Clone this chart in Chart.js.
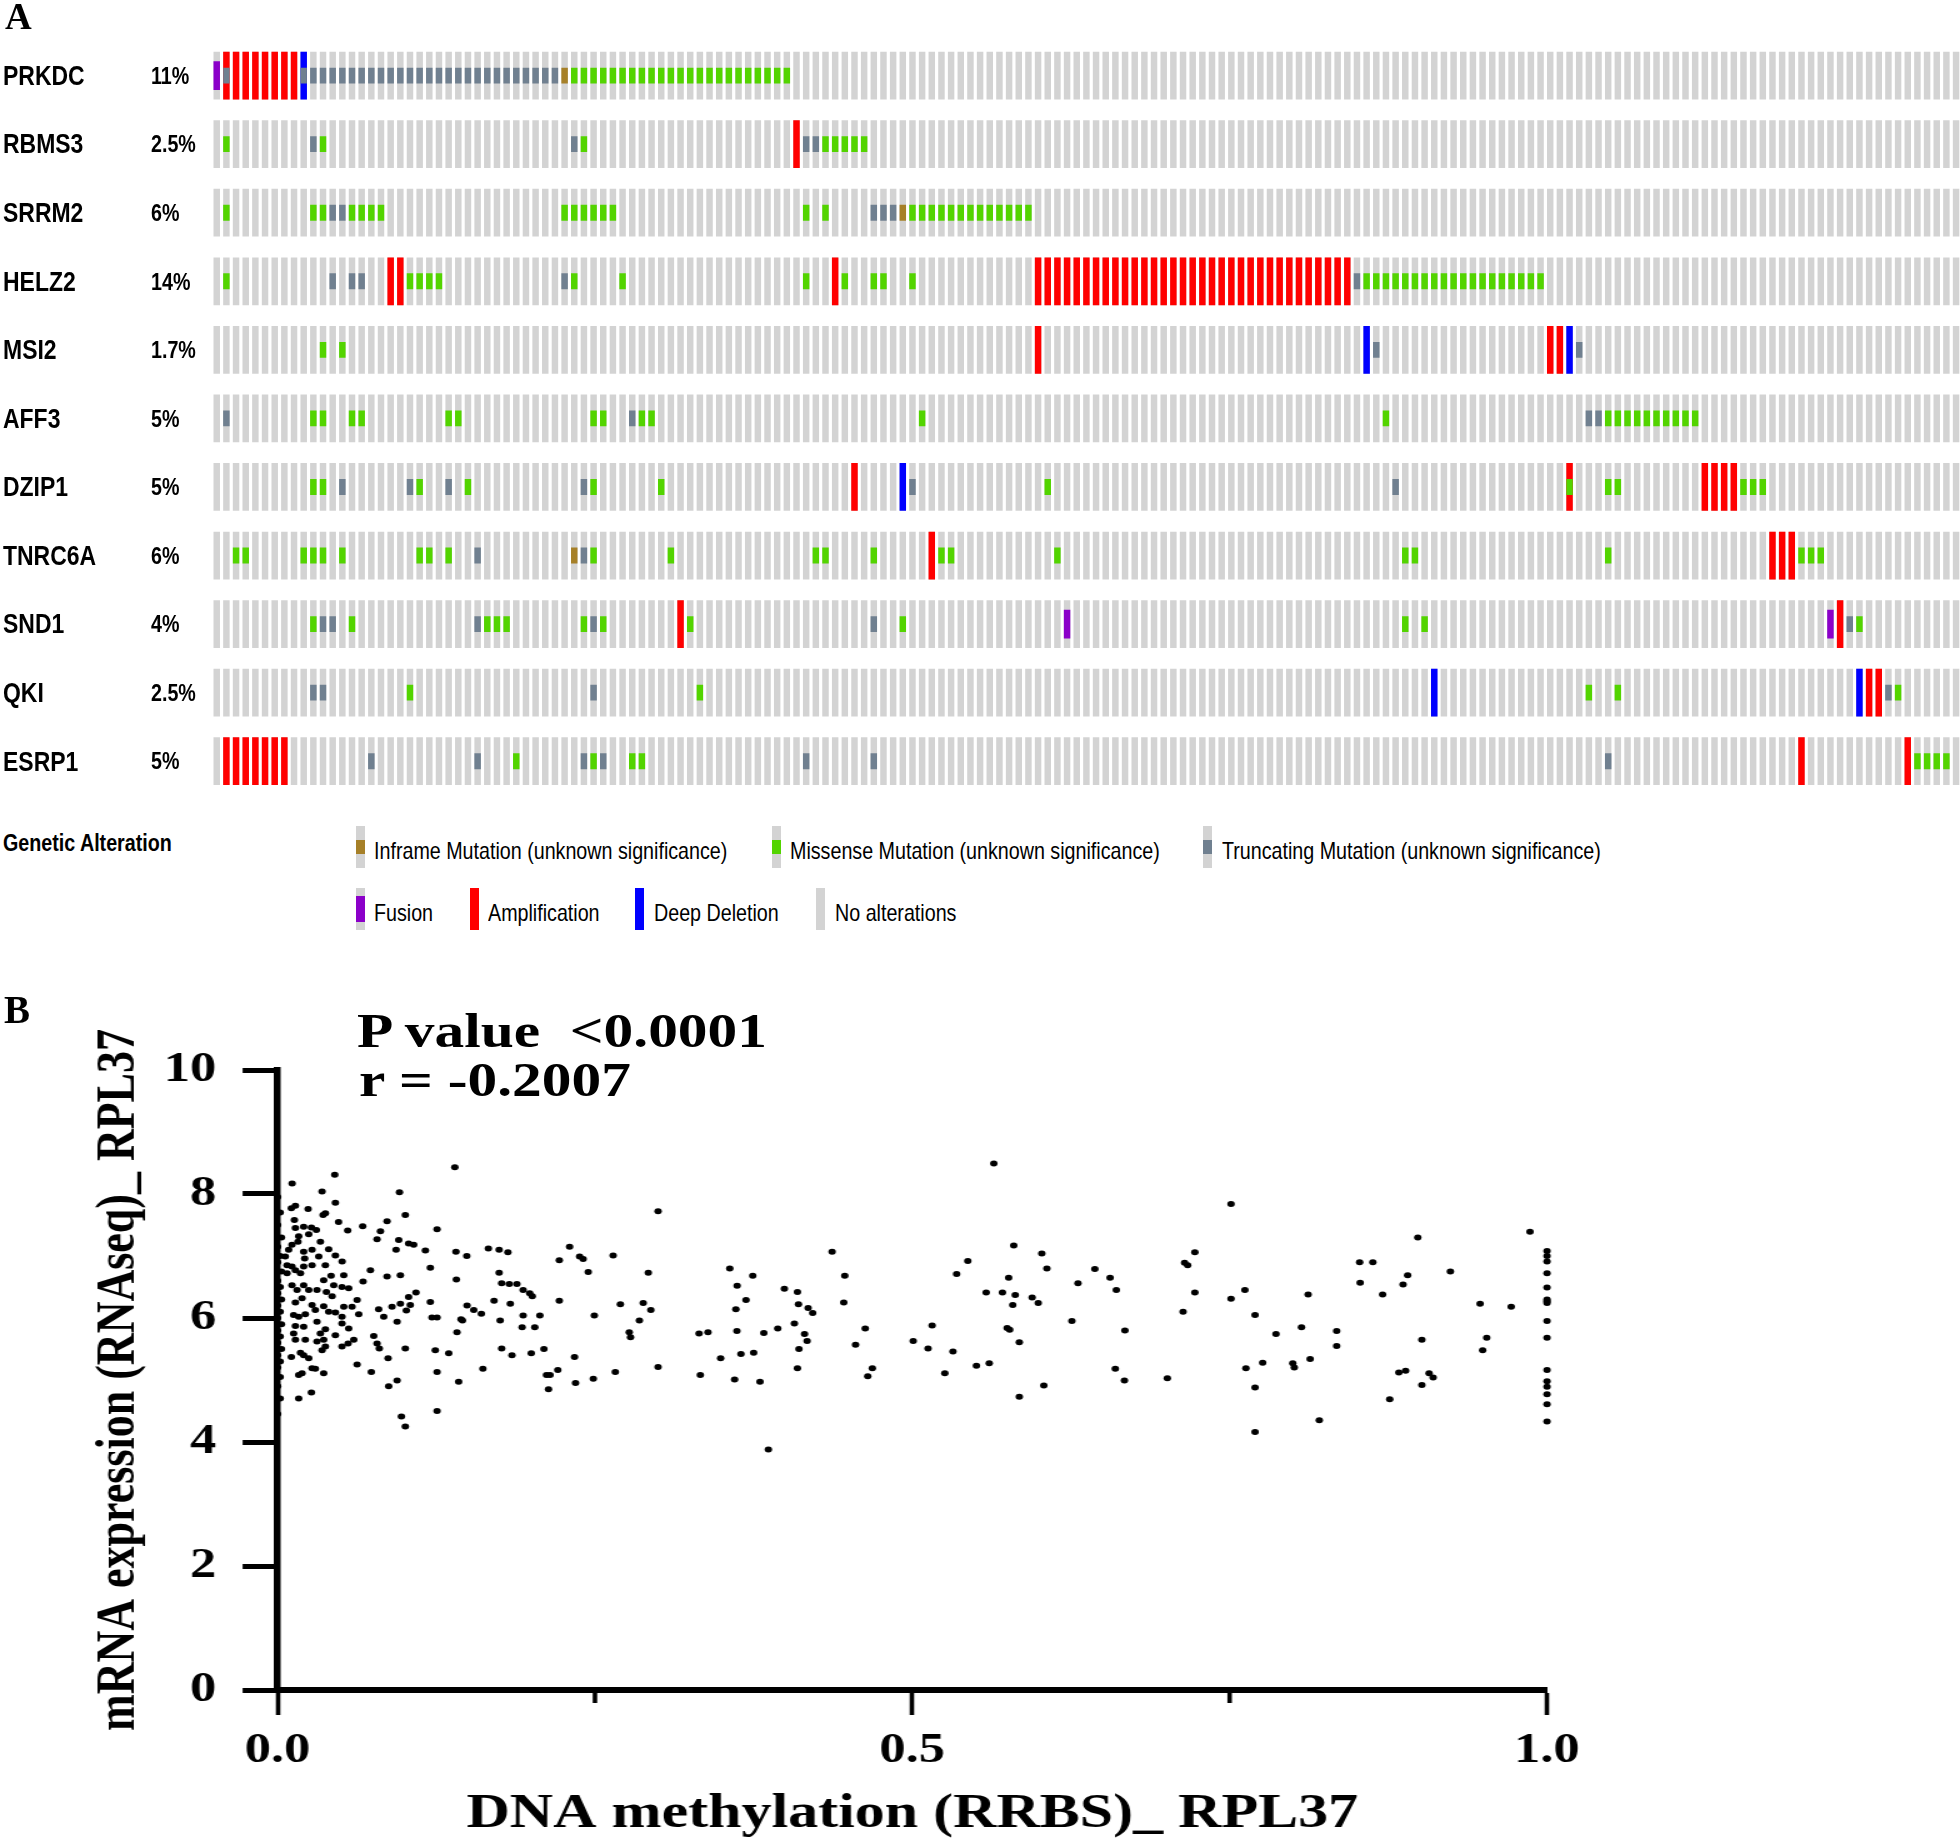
<!DOCTYPE html>
<html><head><meta charset="utf-8">
<script src="https://cdn.jsdelivr.net/npm/chart.js@4.4.1/dist/chart.umd.min.js"></script>
<style>
html,body{margin:0;padding:0;background:#fff;overflow:hidden;}
body{width:1960px;height:1843px;position:relative;}
#onco{position:absolute;left:0;top:0;}
#scWrap{position:absolute;left:0;top:980px;width:1568px;height:863px;transform:scaleX(1.25);transform-origin:0 0;}
.t{position:absolute;white-space:pre;color:#000;line-height:1;}
.narrow{font-family:"Liberation Sans",Arial,sans-serif;transform:scaleX(0.82);transform-origin:0 0;}
.serif{font-family:"Liberation Serif","Times New Roman",serif;font-weight:bold;}
.stretch{transform:scaleX(1.25);transform-origin:0 0;}
.glyph{position:absolute;width:9px;height:42px;background:#D3D3D3;}
.glyph i{position:absolute;left:0;width:100%;display:block;}
</style></head><body>
<canvas id="onco" width="1962" height="800"></canvas>
<div id="scWrap"><canvas id="sc" width="1568" height="863"></canvas></div>
<div class="t serif" style="left:5px;top:-2px;font-size:37px;">A</div>
<div class="t serif" style="left:4px;top:990px;font-size:39px;">B</div>
<div class="t serif stretch" style="left:357px;top:1008px;font-size:47.5px;">P value  &lt;0.0001</div>
<div class="t serif stretch" style="left:359px;top:1057px;font-size:47.5px;">r = -0.2007</div>
<div class="t narrow" style="left:3px;top:831px;font-size:24px;font-weight:bold;">Genetic Alteration</div>
<div id="labels"></div>
<div id="legend"></div>
<script>
// ---------------- Panel A: OncoPrint data ----------------
const genes = ['PRKDC','RBMS3','SRRM2','HELZ2','MSI2','AFF3','DZIP1','TNRC6A','SND1','QKI','ESRP1'];
const alteredPct = ['11%','2.5%','6%','14%','1.7%','5%','5%','6%','4%','2.5%','5%'];
const sampleCount = 181;
// column indices of altered samples, one list per gene (same order as genes)
const amplification = [
  [1,2,3,4,5,6,7,8],
  [60],
  [],
  [18,19,64,85,86,87,88,89,90,91,92,93,94,95,96,97,98,99,100,101,102,103,104,105,106,107,108,109,110,111,112,113,114,115,116,117],
  [85,138,139],
  [],
  [66,140,154,155,156,157],
  [74,161,162,163],
  [48,168],
  [171,172],
  [1,2,3,4,5,6,7,164,175]
];
const deepDeletion = [[9],[],[],[],[119,140],[],[71],[],[],[126,170],[]];
const fusion = [[0],[],[],[],[],[],[],[],[88,167],[],[]];
const truncating = [
  [1,9,10,11,12,13,14,15,16,17,18,19,20,21,22,23,24,25,26,27,28,29,30,31,32,33,34,35],
  [10,37,61,62],
  [12,13,68,69,70],
  [12,14,15,36,118],
  [120,141],
  [1,43,142,143],
  [13,20,24,38,72,122],
  [27,38],
  [11,12,27,39,68,169],
  [10,11,39,173],
  [16,27,38,40,61,68,144]
];
const inframe = [[36],[],[71],[],[],[],[],[37],[],[],[]];
const missense = [
  [37,38,39,40,41,42,43,44,45,46,47,48,49,50,51,52,53,54,55,56,57,58,59],
  [1,11,38,63,64,65,66,67],
  [1,10,11,14,15,16,17,36,37,38,39,40,41,61,63,72,73,74,75,76,77,78,79,80,81,82,83,84],
  [1,20,21,22,23,37,42,61,65,68,69,72,119,120,121,122,123,124,125,126,127,128,129,130,131,132,133,134,135,136,137],
  [11,13],
  [10,11,14,15,24,25,39,40,44,45,73,121,144,145,146,147,148,149,150,151,152,153],
  [10,11,21,26,39,46,86,140,144,145,158,159,160],
  [2,3,9,10,11,13,21,22,24,39,47,62,63,68,75,76,87,123,124,144,164,165,166],
  [10,14,28,29,30,38,40,49,71,123,125,170],
  [20,50,142,145,174],
  [31,39,43,44,176,177,178,179]
];

// ---------------- Panel B: scatter data ----------------
const methylationRRBS = [
0.045,0.0114,0.035,0.096,0.0455,0.014,0.0108,0.024,0.0358,0.0376,0.1006,0.0132,0.048,0.0862,0.0205,0.014,0.0266,0.0305,0.0552,0.067,
0.081,0.1256,0.0166,0.0245,0.0783,0.0954,0.1032,0.1072,0.0337,0.016,0.0113,0.0087,0.0402,0.0271,0.0205,0.0933,0.1164,0.1405,0.0455,0.0324,
0.0213,0.0508,0.006,0.0074,0.0113,0.0271,0.0376,0.0205,0.1203,0.0731,0.014,0.018,0.0074,0.0421,0.0521,0.0967,0.0862,0.0363,0.1408,0.0673,
0.0113,0.0205,0.0442,0.0153,0.0245,0.031,0.0384,0.0507,0.056,0.0429,0.109,0.1032,0.0192,0.014,0.0626,0.0271,0.0363,0.0521,0.0586,0.0901,
0.0967,0.1014,0.1045,0.1203,0.0796,0.0297,0.0402,0.0455,0.0639,0.0126,0.0166,0.0218,0.0507,0.0836,0.1216,0.1256,0.1445,0.031,0.0941,0.0507,
0.014,0.0205,0.0376,0.0337,0.056,0.1413,0.0126,0.0757,0.0455,0.0218,0.014,0.031,0.0363,0.06,0.0555,0.0507,0.0783,0.0801,0.035,0.0376,
0.1006,0.1242,0.1348,0.0108,0.018,0.0205,0.0245,0.087,0.0626,0.0271,0.0297,0.0166,0.0192,0.0363,0.0738,0.1256,0.1426,0.0941,0.0875,0.0266,
0.0166,0.1256,0.0975,0.1006,
0,0.002,0,0.003,0,0.002,0,0.003,0,0.002,0,0.003,0,0.002,0,0.003,0,0.002,0,0.003,0,0.002,0,0.002,0,0.002,0,
0.2997,0.166,0.1745,0.1814,0.149,0.23,0.2219,0.2379,0.2407,0.2643,0.2447,0.292,0.3562,0.3743,0.362,0.369,0.3992,0.361,0.3618,0.383,
0.394,0.332,0.339,0.277,0.278,0.285,0.294,0.288,0.27,0.2495,0.2219,0.2066,0.2026,0.1926,0.1934,0.2006,0.1986,0.1934,0.1885,0.1825,
0.1765,0.1745,0.1833,0.1705,0.1753,0.1605,0.1545,0.1492,0.1456,0.1617,0.1765,0.1846,0.1998,0.2098,0.2339,0.2118,0.2146,0.2207,0.2134,0.2347,
0.2487,0.266,0.2997,0.333,0.349,0.36,0.365,0.375,0.38,0.3866,0.1396,
0.4095,0.4103,0.4179,0.4215,0.4071,0.4151,0.4171,0.4107,0.4095,0.4368,0.4468,0.446,0.4629,0.4553,0.4685,0.4649,0.5007,0.5156,0.5124,0.532,
0.5256,0.5505,0.5606,0.5349,0.5437,0.5642,0.5582,0.571,0.5811,0.5799,0.5759,0.5791,0.5747,0.5767,0.5843,0.5843,0.602,0.606,0.5944,0.5992,
0.6036,0.6305,0.6438,0.6558,0.6607,0.6257,0.6675,0.6599,0.6671,0.7009,0.7133,0.7226,0.7145,0.7169,0.7226,0.7511,0.7511,0.762,0.77,0.7865,
0.7628,0.776,0.77,0.77,0.7997,0.8009,0.8066,0.8134,0.8118,0.8343,0.8343,0.8206,0.8524,0.8628,0.8528,0.8705,0.8866,0.8902,0.8982,0.9239,
0.9014,0.8833,0.8886,0.9071,0.9103,0.9014,0.8761,0.9473,0.9525,0.9493,0.9718,0.9866,
1,1,1,1,1,1,1,1,1,1,1,1,1,1,1,1
];
const expressionRNAseq = [
8.31,8.17,8.04,8.03,7.86,7.81,7.77,7.76,7.66,7.69,7.66,7.58,7.55,7.56,7.47,7.45,7.46,7.42,7.41,7.48,
7.40,7.43,7.32,7.35,7.27,7.26,7.20,7.18,7.23,7.23,7.18,7.10,7.11,7.10,7.07,7.10,7.09,7.07,7.01,6.99,
6.96,6.91,6.99,6.85,6.83,6.85,6.85,6.83,6.81,6.77,6.77,6.72,6.72,6.68,6.69,6.69,6.67,6.61,6.62,6.59,
6.53,6.53,6.53,6.45,6.45,6.45,6.42,6.50,6.48,6.35,6.41,6.34,6.32,6.25,6.29,6.21,6.19,6.18,6.18,6.18,
6.23,6.12,6.21,6.26,6.14,6.13,6.10,6.09,6.06,6.05,6.02,6.06,6.02,6.02,6.01,6.01,5.98,5.94,5.94,5.91,
5.87,5.86,5.82,5.75,5.83,5.77,5.75,5.71,5.72,5.65,5.65,5.62,5.65,5.65,5.59,5.54,5.59,5.51,5.48,5.54,
5.51,5.48,5.43,5.37,5.44,5.40,5.35,5.35,5.25,5.19,5.18,5.08,5.11,5.11,5.13,5.13,4.97,4.99,4.90,4.80,
4.70,4.50,4.41,4.25,
7.95,7.7,7.5,7.3,7.15,7.0,6.9,6.75,6.6,6.5,6.4,6.3,6.2,6.1,6.0,5.9,5.8,5.7,5.6,5.5,5.4,5.3,5.2,5.05,4.9,4.7,4.45,
7.72,7.12,7.10,7.06,7.00,7.15,6.93,6.99,6.95,7.01,6.74,6.73,6.80,6.68,6.52,6.29,6.47,6.14,5.79,5.76,
5.83,5.75,5.77,5.77,5.69,5.96,6.13,6.24,6.22,6.04,6.28,6.04,5.85,5.85,6.04,6.35,6.40,6.45,6.55,6.55,
6.56,6.73,6.23,6.28,5.96,6.07,6.13,6.20,5.96,5.18,5.51,5.40,5.43,5.50,5.37,5.08,5.08,5.16,4.85,4.95,
5.02,5.13,5.21,5.08,5.35,5.01,5.42,5.44,4.97,3.88,8.43,
6.42,6.22,6.16,6.08,5.91,5.74,5.63,5.50,5.19,7.07,6.68,6.25,5.83,5.57,5.19,5.06,5.63,5.88,5.51,5.46,
5.11,5.23,5.27,6.71,6.92,8.49,6.41,6.41,6.37,7.17,6.65,6.21,5.84,5.81,5.61,4.73,7.04,6.80,6.33,6.24,
4.91,6.56,6.79,6.65,6.45,5.95,5.80,5.18,4.99,5.03,6.10,7.06,6.89,6.85,6.41,7.84,6.31,6.45,6.05,5.74,
5.19,5.28,4.88,4.16,5.27,5.20,5.85,5.34,6.38,5.79,5.55,4.35,6.90,6.90,6.57,6.38,6.54,6.69,7.30,6.75,
5.65,5.12,5.15,5.11,5.04,4.92,4.69,6.23,5.68,5.48,6.18,7.39,
7.08,7.00,6.91,6.72,6.49,6.30,6.27,6.24,5.95,5.68,5.16,4.98,4.89,4.77,4.61,4.33
];
const xTicksMajor = [0, 0.5, 1];
const xTicksMinor = [0.25, 0.75];
const xTitle = 'DNA methylation (RRBS)_ RPL37';
const yTitle = 'mRNA expression (RNAseq)_ RPL37';

// ---------------- styles ----------------
const COL = {
  missense:'#53D400', truncating:'#708090', inframe:'#A68028', fusion:'#8B00C9',
  amp:'#FF0000', del:'#0000FF', none:'#D3D3D3'
};
const SERIF = '"Liberation Serif","Times New Roman",serif';
const ROW_PAD = 0.152, ROW_H = 0.696;

const columns = Array.from({length: sampleCount}, (_, i) => i);
function bars(lists, f0, f1) {
  const out = [];
  lists.forEach((cols, k) => cols.forEach(c => out.push({x: c, y: [k + ROW_PAD + f0 * ROW_H, k + ROW_PAD + f1 * ROW_H]})));
  return out;
}
const allCols = genes.map(() => columns);

const onco = new Chart(document.getElementById('onco'), {
  type: 'bar',
  data: {
    labels: columns,
    datasets: [
      {label:'Missense', data: bars(missense, 1/3, 2/3), backgroundColor: COL.missense, order: 1},
      {label:'Truncating', data: bars(truncating, 1/3, 2/3), backgroundColor: COL.truncating, order: 1},
      {label:'Inframe', data: bars(inframe, 1/3, 2/3), backgroundColor: COL.inframe, order: 1},
      {label:'Fusion', data: bars(fusion, 0.2, 0.8), backgroundColor: COL.fusion, order: 2},
      {label:'Amplification', data: bars(amplification, 0, 1), backgroundColor: COL.amp, order: 3},
      {label:'Deep Deletion', data: bars(deepDeletion, 0, 1), backgroundColor: COL.del, order: 3},
      {label:'No alterations', data: bars(allCols, 0, 1), backgroundColor: COL.none, order: 4}
    ]
  },
  options: {
    responsive: false, animation: false, events: [],
    datasets: {bar: {grouped: false, barPercentage: 0.67, categoryPercentage: 1, borderWidth: 0}},
    layout: {padding: {left: 3, top: 41.3, right: 1.1, bottom: 4.5}},
    plugins: {legend: {display: false}, tooltip: {enabled: false}},
    scales: {
      x: {type: 'category', display: false, offset: true},
      y: {
        type: 'linear', position: 'left', min: 0, max: genes.length, reverse: true,
        afterFit: s => { s.width = 208.9; s.paddingTop = 0; s.paddingBottom = 0; },
        ticks: {display: false},
        grid: {display: false}, border: {display: false}
      }
    }
  }
});

// gene names and alteration frequencies, placed on the rows of the chart's y scale
const labelBox = document.getElementById('labels');
function addText(parent, txt, left, centerY, size, bold) {
  const d = document.createElement('div');
  d.className = 't narrow';
  d.style.left = left + 'px';
  d.style.top = (centerY - 0.4885 * size) + 'px';
  d.style.fontSize = size + 'px';
  if (bold) d.style.fontWeight = 'bold';
  d.textContent = txt;
  parent.appendChild(d);
}
const ys = onco.scales.y;
genes.forEach((g, k) => {
  const cy = ys.getPixelForValue(k + 0.5);
  addText(labelBox, g, 3, cy, 28, true);
  addText(labelBox, alteredPct[k], 150.6, cy, 24, true);
});

// legend (HTML text)
const legendLabels = [
  'Inframe Mutation (unknown significance)','Missense Mutation (unknown significance)','Truncating Mutation (unknown significance)',
  'Fusion','Amplification','Deep Deletion','No alterations'
];
const legendKinds = [['inframe',1/3,2/3],['missense',1/3,2/3],['truncating',1/3,2/3],['fusion',0.2,0.8],['amp',0,1],['del',0,1],['none',0,0]];
const legendPos = [[356,826,374,850.5],[772,826,790,850.5],[1203,826,1222,850.5],[356,888,374,912.5],[470,888,488,912.5],[635,888,654,912.5],[816,888,835,912.5]];
const lg = document.getElementById('legend');
legendLabels.forEach((lab, i) => {
  const [gx, gy, tx, cy] = legendPos[i];
  const [kind, f0, f1] = legendKinds[i];
  const g = document.createElement('div');
  g.className = 'glyph'; g.style.left = gx + 'px'; g.style.top = gy + 'px';
  if (f1 > f0) {
    const inner = document.createElement('i');
    inner.style.top = (f0 * 42) + 'px'; inner.style.height = ((f1 - f0) * 42) + 'px';
    inner.style.background = COL[kind];
    g.appendChild(inner);
  }
  lg.appendChild(g);
  addText(lg, lab, tx, cy, 24, false);
});

// ---------------- Panel B chart ----------------
const minorTicks = {
  id: 'minorTicks',
  afterDraw(chart) {
    const s = chart.scales.x, c = chart.ctx;
    c.save(); c.strokeStyle = '#000'; c.lineWidth = 3.6;
    xTicksMinor.forEach(v => {
      const px = s.getPixelForValue(v);
      c.beginPath(); c.moveTo(px, s.top); c.lineTo(px, s.top + 13); c.stroke();
    });
    c.restore();
  }
};
new Chart(document.getElementById('sc'), {
  type: 'scatter',
  data: {datasets: [{
    data: methylationRRBS.map((x, i) => ({x, y: expressionRNAseq[i]})),
    pointRadius: 3, pointBackgroundColor: '#000', pointBorderColor: '#000', pointBorderWidth: 0, clip: false
  }]},
  options: {
    responsive: false, animation: false, events: [],
    layout: {padding: {top: 90, right: 330.4, left: 0, bottom: 0}},
    plugins: {legend: {display: false}, tooltip: {enabled: false}},
    scales: {
      x: {
        type: 'linear', min: 0, max: 1,
        afterBuildTicks: s => { s.ticks = xTicksMajor.concat(xTicksMinor).sort((a,b)=>a-b).map(v => ({value: v})); },
        afterFit: s => { s.height = 153; },
        ticks: {autoSkip: false, padding: 11, color: '#000', maxRotation: 0,
                font: {family: SERIF, size: 42, weight: 'bold'},
                callback: v => xTicksMajor.includes(v) ? v.toFixed(1) : ''},
        grid: {drawOnChartArea: false, tickLength: 25, tickWidth: 3.6,
               tickColor: c => (c.tick && xTicksMajor.includes(c.tick.value)) ? '#000' : 'rgba(0,0,0,0)'},
        border: {display: true, color: '#000', width: 6},
        title: {display: true, text: xTitle, color: '#000', font: {family: SERIF, size: 48, weight: 'bold'}, padding: {top: 0, bottom: 0}}
      },
      y: {
        type: 'linear', min: 0, max: 10,
        afterFit: s => { s.width = 222.1; },
        ticks: {stepSize: 2, padding: 21, color: '#000', font: {family: SERIF, size: 42, weight: 'bold'}},
        grid: {drawOnChartArea: false, tickLength: 28, tickWidth: 5, tickColor: '#000'},
        border: {display: true, color: '#000', width: 5.5},
        title: {display: true, text: yTitle, color: '#000', font: {family: SERIF, size: 44, weight: 'bold'}, padding: {top: 68.8, bottom: 0}}
      }
    }
  },
  plugins: [minorTicks]
});
</script>
</body></html>
